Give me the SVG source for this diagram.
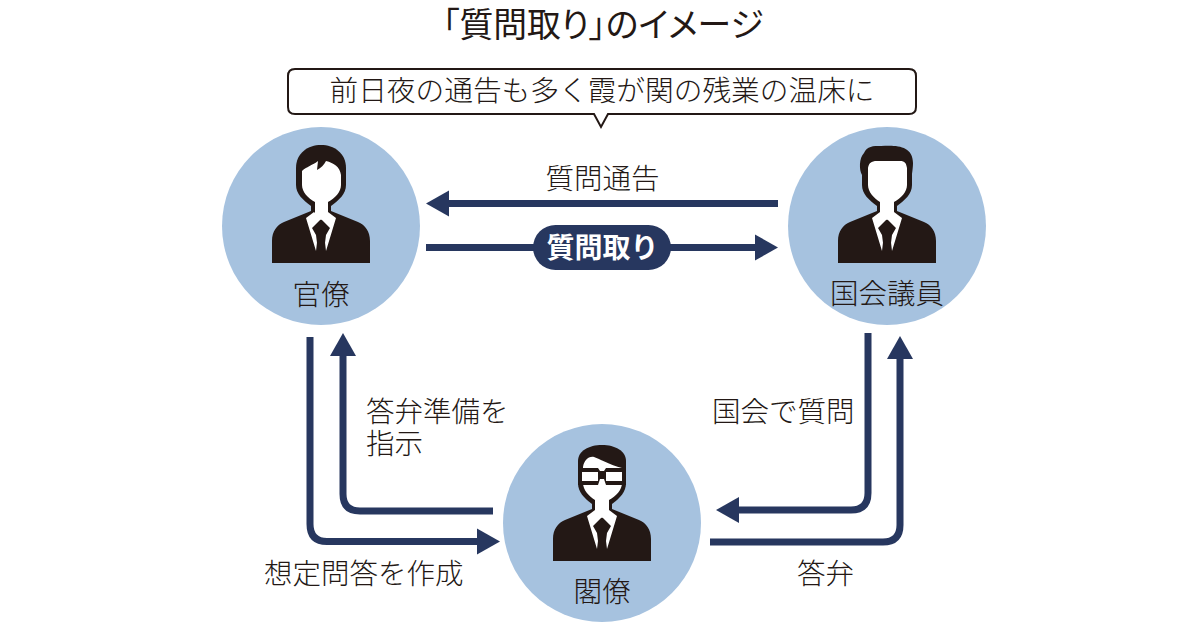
<svg xmlns="http://www.w3.org/2000/svg" width="1200" height="630" viewBox="0 0 1200 630">
<style>
text{font-family:"Noto Sans CJK JP","Noto Sans",sans-serif;fill:#231815;font-size:28.5px;font-weight:300}
.m{text-anchor:middle}
.c{fill:#a6c2df}
.a{fill:none;stroke:#27375f;stroke-width:7}
.k{fill:#231815}
.w{fill:#fff}
</style>
<defs>
<marker id="h" markerUnits="userSpaceOnUse" markerWidth="24" markerHeight="28" refX="0" refY="14" orient="auto" viewBox="0 0 24 28"><path d="M0,1L23,14L0,27Z" fill="#27375f"/></marker>
<path id="body" class="k" d="M-49,0V-22C-49,-32 -44,-38 -37,-41L-10,-52V-62H10V-52L37,-41C44,-38 49,-32 49,-22V0Z"/>
<path id="shirt" class="w" d="M-15,-45L-7,-51L0,-44L7,-51L15,-45L5,-12H3L5,-28L9,-35L0,-44L-9,-35L-5,-28L-3,-12H-5Z"/>
</defs>
<text id="title" class="m" x="603" y="37" style="font-size:33.800px;font-weight:400;font-feature-settings:'palt'">「質問取り」のイメージ</text>
<g id="note">
<path d="M295,69H909Q916,69 916,76V107Q916,114 909,114H608L601,127L594,114H295Q288,114 288,107V76Q288,69 295,69Z" fill="#fff" stroke="#231815" stroke-width="2"/>
<text class="m" x="602" y="101" style="font-size:28.700px">前日夜の通告も多く霞が関の残業の温床に</text>
</g>
<g id="connectors">
<path class="a" d="M778,203.500H449" marker-end="url(#h)"/>
<path class="a" d="M426,247.500H755" marker-end="url(#h)"/>
<path class="a" d="M310,337V524Q310,541.500 327,541.500H477" marker-end="url(#h)"/>
<path class="a" d="M493,511H360Q343,511 343,494V356" marker-end="url(#h)"/>
<path class="a" d="M868,333V493Q868,510 851,510H739" marker-end="url(#h)"/>
<path class="a" d="M710,542H883Q900,542 900,525V359" marker-end="url(#h)"/>
</g>
<g id="edge-labels">
<text class="m" x="602.500" y="189">質問通告</text>
<g id="pill"><rect x="533" y="225" width="138" height="45" rx="22.500" fill="#27375f"/>
<text class="m" x="602.500" y="258" style="fill:#fff;font-weight:700;font-size:28px">質問取り</text></g>
<text x="366" y="422">答弁準備を</text>
<text x="366" y="454">指示</text>
<text x="712" y="422">国会で質問</text>
<text x="264" y="584">想定問答を作成</text>
<text x="797" y="584">答弁</text>
</g>
<g id="kanryo">
<circle class="c" cx="321" cy="226" r="99"/>
<g transform="translate(321,263)">
<use href="#body"/>
<path class="k" d="M-25,-78V-95C-25,-110 -13,-118 0,-118C13,-118 25,-110 25,-95V-78C25,-69 18,-63 10,-57H-10C-18,-63 -25,-69 -25,-78Z"/>
<path class="w" d="M-19,-78V-92C-15,-96 -8,-98 -3,-102L-4,-93C0,-95 3,-98 5,-102C13,-100 19,-96 20,-88V-78C20,-71 14,-65 7,-61V-48L0,-43L-6,-48V-61C-13,-65 -19,-71 -19,-78Z"/>
<use href="#shirt"/>
<path class="k" d="M0,-42L-7,-35L-3,-29L-5,-12H5L3,-29L7,-35Z"/>
</g>
<text class="m" x="321" y="305">官僚</text>
</g>
<g id="giin">
<circle class="c" cx="887" cy="226" r="99"/>
<g transform="translate(887,263)">
<use href="#body"/>
<path class="k" d="M-25,-78V-88C-28,-93 -28,-105 -23,-110C-20,-117 -14,-117 -6,-117C8,-118 26,-118 26,-100C26,-95 25,-90 25,-88V-78C25,-69 18,-63 10,-57H-10C-18,-63 -25,-69 -25,-78Z"/>
<path class="w" d="M-19,-78V-95C-18,-100 -16,-102 -10,-102H13C18,-102 19,-100 20,-95V-78C20,-71 14,-65 7,-61V-48L0,-43L-7,-48V-61C-13,-65 -19,-71 -19,-78Z"/>
<use href="#shirt"/>
<path class="k" d="M0,-42L-7,-35L-3,-29L-5,-12H5L3,-29L7,-35Z"/>
</g>
<text class="m" x="887" y="304">国会議員</text>
</g>
<g id="kakuryo">
<circle class="c" cx="602" cy="523" r="99"/>
<g transform="translate(602,561)">
<use href="#body"/>
<path class="k" d="M-24,-78V-100C-24,-110 -13,-116 0,-116C13,-116 24,-110 24,-100V-78C24,-69 18,-63 10,-57H-10C-18,-63 -24,-69 -24,-78Z"/>
<path class="w" d="M-19,-78V-94C-18,-100 -14,-105 -8,-104C-4,-103 8,-96 20,-93V-78C20,-71 14,-65 7,-61V-48L0,-43L-7,-48V-61C-13,-65 -19,-71 -19,-78Z"/>
<path class="k" d="M-24,-93H-4L-2,-90H2L4,-93H24V-76H4L2,-82H-2L-4,-76H-24Z"/>
<path class="w" d="M-20,-89H-4V-80H-20ZM4,-89H20V-80H4Z"/>
<use href="#shirt"/>
<path class="k" d="M0,-41L-6,-35L-3,-28L-5,-12H5L3,-28L6,-35Z"/>
</g>
<text class="m" x="602" y="602">閣僚</text>
</g>
</svg>
